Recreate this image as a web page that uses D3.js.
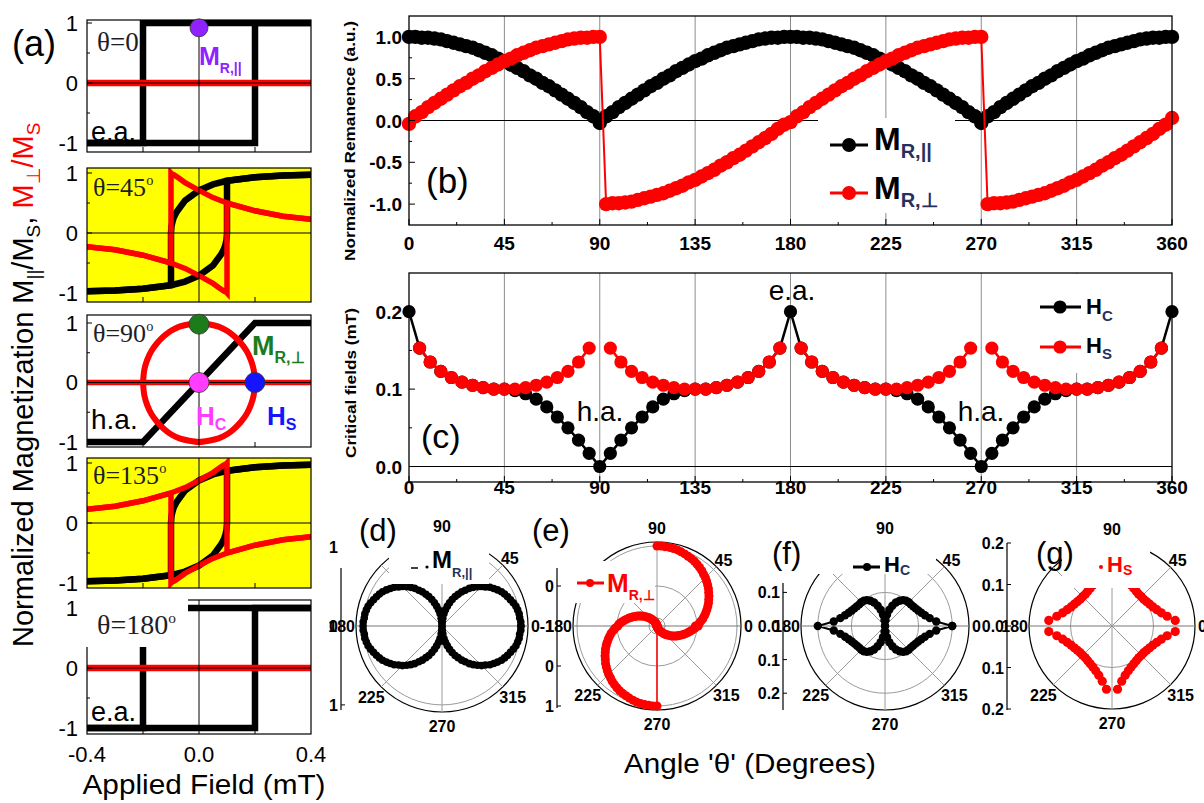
<!DOCTYPE html>
<html><head><meta charset="utf-8">
<script src="https://cdn.jsdelivr.net/npm/d3@7/dist/d3.min.js"></script>
<style>html,body{margin:0;padding:0;background:#fff;} svg{display:block;}</style>
</head><body>
<svg id="chart" width="1204" height="803" xmlns="http://www.w3.org/2000/svg"></svg>
<script>
// ====================== DATA ======================
// (a) hysteresis loops — applied field (mT) vs normalized magnetization
const fieldTicks = [-0.4, 0.0, 0.4];
const magTicks = [-1, 0, 1];
// easy axis (theta = 0 and 180): square loop
const eaDownH = [0.4, -0.2, -0.2, -0.4];
const eaDownPar = [1, 1, -1, -1];
const eaUpH = [-0.4, 0.2, 0.2, 0.4];
const eaUpPar = [-1, -1, 1, 1];
const zeroH = [-0.4, 0.4];
const zeroPerp = [0, 0];
// oblique (theta = 45 and 135)
const oblDownH = [0.4, 0.3, 0.2, 0.1, 0.05, 0, -0.05, -0.08, -0.09, -0.095, -0.098, -0.1, -0.1, -0.2, -0.3, -0.4];
const oblDownPar = [0.97, 0.96, 0.93, 0.87, 0.81, 0.71, 0.54, 0.35, 0.26, 0.18, 0.12, 0.0, -0.87, -0.93, -0.96, -0.97];
const oblUpH = [-0.4, -0.3, -0.2, -0.1, -0.05, 0, 0.05, 0.08, 0.09, 0.095, 0.098, 0.1, 0.1, 0.2, 0.3, 0.4];
const oblUpPar = [-0.97, -0.96, -0.93, -0.87, -0.81, -0.71, -0.54, -0.35, -0.26, -0.18, -0.12, 0.0, 0.87, 0.93, 0.96, 0.97];
const perp45Down = [0.23, 0.28, 0.37, 0.50, 0.59, 0.71, 0.84, 0.94, 0.97, 0.98, 0.99, 1.0, -0.5, -0.37, -0.28, -0.23];
const perp45Up = [-0.23, -0.28, -0.37, -0.50, -0.59, -0.71, -0.84, -0.94, -0.97, -0.98, -0.99, -1.0, 0.5, 0.37, 0.28, 0.23];
const perp135Down = [-0.23, -0.28, -0.37, -0.50, -0.59, -0.71, -0.84, -0.94, -0.97, -0.98, -0.99, -1.0, 0.5, 0.37, 0.28, 0.23];
const perp135Up = [0.23, 0.28, 0.37, 0.50, 0.59, 0.71, 0.84, 0.94, 0.97, 0.98, 0.99, 1.0, -0.5, -0.37, -0.28, -0.23];
// hard axis (theta = 90)
const haH = [-0.4, -0.2, 0.2, 0.4];
const haPar = [-1, -1, 1, 1];
const ringH = [-0.2, -0.195, -0.185, -0.17, -0.15, -0.125, -0.1, -0.07, -0.035, 0, 0.035, 0.07, 0.1, 0.125, 0.15, 0.17, 0.185, 0.195, 0.2];
const ringUpper = [0, 0.22, 0.38, 0.53, 0.66, 0.78, 0.87, 0.94, 0.98, 1, 0.98, 0.94, 0.87, 0.78, 0.66, 0.53, 0.38, 0.22, 0];
const ringLower = [0, -0.22, -0.38, -0.53, -0.66, -0.78, -0.87, -0.94, -0.98, -1, -0.98, -0.94, -0.87, -0.78, -0.66, -0.53, -0.38, -0.22, 0];
// marked points
const remPointH = [0];
const remPointM = [0.92];
const hardPointH = [0, 0, 0.2];
const hardPointM = [0.98, 0, 0];
const hardPointColors = ["#1c7c1c", "#ff3cff", "#1414ff"];

// (b) normalized remanence vs angle
const remAngles = d3.range(0, 361, 3);
const remPar = [
  1.00,1.00,0.99,0.99,0.98,0.97,0.95,0.93,0.91,0.89,0.87,0.84,0.81,0.78,0.74,0.71,0.67,0.63,0.59,0.54,0.50,0.45,0.41,0.36,0.31,0.26,0.21,0.16,0.10,0.05,-0.03,
  0.05,0.10,0.16,0.21,0.26,0.31,0.36,0.41,0.45,0.50,0.54,0.59,0.63,0.67,0.71,0.74,0.78,0.81,0.84,0.87,0.89,0.91,0.93,0.95,0.97,0.98,0.99,0.99,1.00,1.00,
  1.00,0.99,0.99,0.98,0.97,0.95,0.93,0.91,0.89,0.87,0.84,0.81,0.78,0.74,0.71,0.67,0.63,0.59,0.54,0.50,0.45,0.41,0.36,0.31,0.26,0.21,0.16,0.10,0.05,-0.03,
  0.05,0.10,0.16,0.21,0.26,0.31,0.36,0.41,0.45,0.50,0.54,0.59,0.63,0.67,0.71,0.74,0.78,0.81,0.84,0.87,0.89,0.91,0.93,0.95,0.97,0.98,0.99,0.99,1.00,1.00
];
const remPerp = [
  -0.04,0.05,0.10,0.16,0.21,0.26,0.31,0.36,0.41,0.45,0.50,0.54,0.59,0.63,0.67,0.71,0.74,0.78,0.81,0.84,0.87,0.89,0.91,0.93,0.95,0.97,0.98,0.99,0.99,1.00,1.00,
  -1.00,-0.99,-0.99,-0.98,-0.97,-0.95,-0.93,-0.91,-0.89,-0.87,-0.84,-0.81,-0.78,-0.74,-0.71,-0.67,-0.63,-0.59,-0.54,-0.50,-0.45,-0.41,-0.36,-0.31,-0.26,-0.21,-0.16,-0.10,-0.05,-0.02,
  0.05,0.10,0.16,0.21,0.26,0.31,0.36,0.41,0.45,0.50,0.54,0.59,0.63,0.67,0.71,0.74,0.78,0.81,0.84,0.87,0.89,0.91,0.93,0.95,0.97,0.98,0.99,0.99,1.00,1.00,
  -1.00,-0.99,-0.99,-0.98,-0.97,-0.95,-0.93,-0.91,-0.89,-0.87,-0.84,-0.81,-0.78,-0.74,-0.71,-0.67,-0.63,-0.59,-0.54,-0.50,-0.45,-0.41,-0.36,-0.31,-0.26,-0.21,-0.16,-0.10,-0.05,0.03
];
const angleTicks = [0, 45, 90, 135, 180, 225, 270, 315, 360];
const remTicks = [-1, -0.5, 0, 0.5, 1];

// (c) critical fields vs angle (mT)
const critAngles = d3.range(0, 361, 5);
const hc = [
  0.200,0.153,0.135,0.123,0.115,0.109,0.105,0.102,0.100,0.100,0.098,0.094,0.087,0.077,0.064,0.050,0.034,0.017,0.000,
  0.017,0.034,0.050,0.064,0.077,0.087,0.094,0.098,0.100,0.100,0.102,0.105,0.109,0.115,0.123,0.135,0.153,0.200,
  0.153,0.135,0.123,0.115,0.109,0.105,0.102,0.100,0.100,0.098,0.094,0.087,0.077,0.064,0.050,0.034,0.017,0.000,
  0.017,0.034,0.050,0.064,0.077,0.087,0.094,0.098,0.100,0.100,0.102,0.105,0.109,0.115,0.123,0.135,0.153,0.200
];
const hs = [
  null,0.153,0.135,0.123,0.115,0.109,0.105,0.102,0.100,0.100,0.100,0.102,0.105,0.109,0.115,0.123,0.135,0.153,
  null,0.153,0.135,0.123,0.115,0.109,0.105,0.102,0.100,0.100,0.100,0.102,0.105,0.109,0.115,0.123,0.135,0.153,
  null,0.153,0.135,0.123,0.115,0.109,0.105,0.102,0.100,0.100,0.100,0.102,0.105,0.109,0.115,0.123,0.135,0.153,
  null,0.153,0.135,0.123,0.115,0.109,0.105,0.102,0.100,0.100,0.100,0.102,0.105,0.109,0.115,0.123,0.135,0.153,
  null
];
const critTicks = [0, 0.1, 0.2];

// polar radial tick labels
const dRadial = [1, 0, 1], dSides = [-1, 0, 1];
const eRadial = [0, -1, 0, 1], eSides = [-1, 0, 1, 1];
const fRadial = [0.1, 0, 0.1, 0.2], fSides = [-1, 0, 1, 1];
const gRadial = [0.2, 0.1, 0, 0.1, 0.2], gSides = [-1, -1, 0, 1, 1];

// ====================== DRAWING ======================
const svg = d3.select("#chart");
const SANS = "'Liberation Sans', Arial, Helvetica, sans-serif";
const SERIF = "'Liberation Serif', 'Times New Roman', serif";
const NAVY = "#26305c";
const RED = "#ff0000";

function addText(parent, x, y, str, o = {}) {
  const t = parent.append("text").attr("x", x).attr("y", y)
    .attr("font-family", o.family || SANS).attr("font-size", o.size || 16)
    .attr("font-weight", o.weight || "normal").attr("text-anchor", o.anchor || "start")
    .attr("fill", o.fill || "#000");
  if (o.len) t.attr("textLength", o.len).attr("lengthAdjust", "spacingAndGlyphs");
  if (str !== null) t.text(str);
  return t;
}
function subText(parent, x, y, main, sub, o) {
  const t = addText(parent, x, y, null, {size: o.size, weight: "bold", fill: o.fill});
  t.append("tspan").text(main);
  t.append("tspan").attr("dy", o.dy).attr("font-size", o.subSize).attr("fill", o.subFill || o.fill).text(sub);
  return t;
}
const fmtSigned = v => (v < 0 ? "-" : "") + Math.abs(v);

// ---------- (a) ----------
const xA = d3.scaleLinear().domain([-0.4, 0.4]).range([87, 311]);
const aPanels = [
  {top: 20, bottom: 152, y1: 23, ym1: 143, fill: "#ffffff"},
  {top: 168, bottom: 302, y1: 173, ym1: 293, fill: "#ffff00"},
  {top: 315, bottom: 447, y1: 323, ym1: 442, fill: "#ffffff"},
  {top: 458, bottom: 588, y1: 463, ym1: 583, fill: "#ffff00"},
  {top: 600, bottom: 734, y1: 608, ym1: 728, fill: "#ffffff"}
];
const BW = 6.5, RW = 5.5;
const aSeries = [
  [{h: eaDownH, m: eaDownPar, c: "#000", w: BW}, {h: eaUpH, m: eaUpPar, c: "#000", w: BW}, {h: zeroH, m: zeroPerp, c: RED, w: RW + 1}],
  [{h: oblDownH, m: oblDownPar, c: "#000", w: BW}, {h: oblUpH, m: oblUpPar, c: "#000", w: BW},
   {h: oblDownH, m: perp45Down, c: RED, w: RW}, {h: oblUpH, m: perp45Up, c: RED, w: RW}],
  [{h: haH, m: haPar, c: "#000", w: BW}, {h: zeroH, m: zeroPerp, c: RED, w: RW},
   {h: ringH, m: ringUpper, c: RED, w: RW + 0.5, curve: d3.curveCatmullRom}, {h: ringH, m: ringLower, c: RED, w: RW + 0.5, curve: d3.curveCatmullRom}],
  [{h: oblDownH, m: oblDownPar, c: "#000", w: BW}, {h: oblUpH, m: oblUpPar, c: "#000", w: BW},
   {h: oblDownH, m: perp135Down, c: RED, w: RW}, {h: oblUpH, m: perp135Up, c: RED, w: RW}],
  [{h: eaDownH, m: eaDownPar, c: "#000", w: BW}, {h: eaUpH, m: eaUpPar, c: "#000", w: BW}, {h: zeroH, m: zeroPerp, c: RED, w: RW + 1}]
];
const aScales = [];
aPanels.forEach((p, i) => {
  const y = d3.scaleLinear().domain([-1, 1]).range([p.ym1, p.y1]);
  aScales.push(y);
  const g = svg.append("g");
  g.append("rect").attr("x", 87).attr("y", p.top).attr("width", 224).attr("height", p.bottom - p.top).attr("fill", p.fill);
  svg.append("clipPath").attr("id", "ca" + i).append("rect")
    .attr("x", 87).attr("y", p.top).attr("width", 224).attr("height", p.bottom - p.top);
  const dg = g.append("g").attr("clip-path", `url(#ca${i})`);
  aSeries[i].forEach(s => {
    const line = d3.line().x(d => xA(d[0])).y(d => y(d[1])).curve(s.curve || d3.curveLinear);
    dg.append("path").attr("d", line(s.h.map((h, k) => [h, s.m[k]])))
      .attr("fill", "none").attr("stroke", s.c).attr("stroke-width", s.w).attr("stroke-linejoin", "miter");
  });
  g.append("line").attr("x1", 87).attr("x2", 311).attr("y1", y(0)).attr("y2", y(0)).attr("stroke", "#000").attr("stroke-width", 1);
  g.append("line").attr("x1", xA(0)).attr("x2", xA(0)).attr("y1", p.top).attr("y2", p.bottom).attr("stroke", "#000").attr("stroke-width", 1);
  g.append("rect").attr("x", 87).attr("y", p.top).attr("width", 224).attr("height", p.bottom - p.top)
    .attr("fill", "none").attr("stroke", "#000").attr("stroke-width", 1.2);
  magTicks.forEach(v => g.append("line").attr("x1", 87).attr("x2", 92).attr("y1", y(v)).attr("y2", y(v)).attr("stroke", "#000"));
  [-0.5, 0.5].forEach(v => g.append("line").attr("x1", 87).attr("x2", 90).attr("y1", y(v)).attr("y2", y(v)).attr("stroke", "#000"));
  [-0.2, 0.2].forEach(v => g.append("line").attr("x1", xA(v)).attr("x2", xA(v)).attr("y1", p.bottom).attr("y2", p.bottom - 5).attr("stroke", "#000"));
  magTicks.forEach(v => addText(g, 78, y(v) + 7.5, fmtSigned(v), {size: 22, anchor: "end"}));
});
// field tick labels (bottom panel)
fieldTicks.forEach(v => addText(svg, xA(v), 762, (v < 0 ? "-" : "") + Math.abs(v).toFixed(1), {size: 22, anchor: "middle"}));
addText(svg, 204, 794, "Applied Field (mT)", {size: 27, anchor: "middle", len: 243});

// marked points (a)
svg.selectAll(null).data(remPointH).join("circle")
  .attr("cx", d => xA(d)).attr("cy", (d, i) => aScales[0](remPointM[i])).attr("r", 9)
  .attr("fill", "#8f22ff").attr("stroke", "#333").attr("stroke-width", 0.8);
svg.selectAll(null).data(hardPointH).join("circle")
  .attr("cx", d => xA(d)).attr("cy", (d, i) => aScales[2](hardPointM[i])).attr("r", 10)
  .attr("fill", (d, i) => hardPointColors[i]).attr("stroke", "#333").attr("stroke-width", 0.8);

// white box over top-left of theta=180 panel
svg.append("rect").attr("x", 85).attr("y", 593).attr("width", 103).attr("height", 54).attr("fill", "#fff");

// (a) texts
const th = (y, x, main, deg, size) => {
  const t = addText(svg, x, y, null, {size: size, family: SERIF, fill: "#1e1e28"});
  t.append("tspan").text(main);
  if (deg) t.append("tspan").attr("dy", -11).attr("font-size", size * 0.55).text("o");
};
th(51, 97, "θ=0", false, 27);
th(196, 93, "θ=45", true, 26);
th(342, 93, "θ=90", true, 26);
th(484, 93, "θ=135", true, 26);
th(634, 97, "θ=180", true, 28);
addText(svg, 91, 141, "e.a.", {size: 27});
addText(svg, 91, 721, "e.a.", {size: 27});
addText(svg, 91, 429, "h.a.", {size: 28});
subText(svg, 199, 65, "M", "R,||", {size: 25, subSize: 14, dy: 8, fill: "#8f22ff"});
subText(svg, 252, 355, "M", "R,⊥", {size: 27, subSize: 16, dy: 8, fill: "#1c7c1c"});
subText(svg, 196, 425, "H", "C", {size: 26, subSize: 16, dy: 5, fill: "#ff3cff"});
subText(svg, 267, 425, "H", "S", {size: 26, subSize: 16, dy: 5, fill: "#1414ff"});
addText(svg, 12, 56, "(a)", {size: 36});

// big y label for (a)
{
  const t = svg.append("text").attr("transform", "translate(33,647) rotate(-90)")
    .attr("font-family", SANS).attr("font-size", 29).attr("fill", "#000");
  t.append("tspan").text("Normalized Magnetization M");
  t.append("tspan").attr("dy", 7).attr("font-size", 19).text("||");
  t.append("tspan").attr("dy", -7).text("/M");
  t.append("tspan").attr("dy", 7).attr("font-size", 19).text("S");
  t.append("tspan").attr("dy", -7).text(", ");
  t.append("tspan").attr("fill", RED).text("M");
  t.append("tspan").attr("dy", 7).attr("font-size", 19).attr("fill", RED).text("⊥");
  t.append("tspan").attr("dy", -7).attr("fill", RED).text("/M");
  t.append("tspan").attr("dy", 7).attr("font-size", 19).attr("fill", RED).text("S");
}

// ---------- (b) and (c) ----------
const xB = d3.scaleLinear().domain([0, 360]).range([409, 1172]);
const yB = d3.scaleLinear().domain([-1.25, 1.25]).range([225, 16]);
const yC = d3.scaleLinear().domain([-0.02, 0.25]).range([482, 273]);

function cartesian(y, top, bottom, box) {
  const g = svg.append("g");
  angleTicks.slice(1, -1).forEach(a => g.append("line").attr("x1", xB(a)).attr("x2", xB(a))
    .attr("y1", top).attr("y2", bottom).attr("stroke", "#8c8c8c").attr("stroke-width", 1));
  g.append("line").attr("x1", 409).attr("x2", 1172).attr("y1", y(0)).attr("y2", y(0)).attr("stroke", "#000").attr("stroke-width", 1);
  g.append("rect").attr("x", box[0]).attr("y", box[1]).attr("width", box[2]).attr("height", box[3]).attr("fill", "#fff");
  return g;
}
function frame(y, top, bottom, majors, minors, fmt, xLabY) {
  const g = svg.append("g");
  g.append("rect").attr("x", 409).attr("y", top).attr("width", 763).attr("height", bottom - top)
    .attr("fill", "none").attr("stroke", "#000").attr("stroke-width", 1.3);
  majors.forEach(v => g.append("line").attr("x1", 409).attr("x2", 415).attr("y1", y(v)).attr("y2", y(v)).attr("stroke", "#000"));
  minors.forEach(v => g.append("line").attr("x1", 409).attr("x2", 412).attr("y1", y(v)).attr("y2", y(v)).attr("stroke", "#000"));
  angleTicks.forEach(a => g.append("line").attr("x1", xB(a)).attr("x2", xB(a)).attr("y1", bottom).attr("y2", bottom - 6).attr("stroke", "#000"));
  angleTicks.slice(0, -1).forEach(a => g.append("line").attr("x1", xB(a + 22.5)).attr("x2", xB(a + 22.5)).attr("y1", bottom).attr("y2", bottom - 3).attr("stroke", "#000"));
  majors.forEach(v => addText(g, 402, y(v) + 7, fmt(v), {size: 19, weight: "bold", anchor: "end"}));
  angleTicks.forEach(a => addText(g, xB(a), xLabY, String(a), {size: 19, weight: "bold", anchor: "middle"}));
}
function series(angles, values, y, color, r, lw) {
  const pts = angles.map((a, i) => ({a, v: values[i]}));
  const line = d3.line().defined(d => d.v !== null).x(d => xB(d.a)).y(d => y(d.v));
  svg.append("path").attr("d", line(pts)).attr("fill", "none").attr("stroke", color).attr("stroke-width", lw);
  svg.append("g").selectAll("circle").data(pts.filter(d => d.v !== null)).join("circle")
    .attr("cx", d => xB(d.a)).attr("cy", d => y(d.v)).attr("r", r).attr("fill", color);
}
const fmt1 = v => (v < 0 ? "-" : "") + Math.abs(v).toFixed(1);

// (b)
cartesian(yB, 16, 225, [818, 118, 137, 95]);
series(remAngles, remPar, yB, "#000", 7.2, 2);
series(remAngles, remPerp, yB, RED, 7.2, 2);
frame(yB, 16, 225, remTicks, [-0.75, -0.25, 0.25, 0.75], fmt1, 250);
addText(svg, 0, 0, "Normalized Remanence (a.u.)", {size: 14, weight: "bold", anchor: "middle", len: 240})
  .attr("transform", "translate(355,141) rotate(-90)");
addText(svg, 426, 193, "(b)", {size: 35});
// legend (b)
svg.append("line").attr("x1", 830).attr("x2", 868).attr("y1", 145).attr("y2", 145).attr("stroke", "#000").attr("stroke-width", 3);
svg.append("circle").attr("cx", 849).attr("cy", 145).attr("r", 7).attr("fill", "#000");
subText(svg, 874, 150, "M", "R,||", {size: 32, subSize: 20, dy: 8, fill: "#000", subFill: NAVY});
svg.append("line").attr("x1", 830).attr("x2", 868).attr("y1", 193).attr("y2", 193).attr("stroke", RED).attr("stroke-width", 3);
svg.append("circle").attr("cx", 849).attr("cy", 193).attr("r", 7).attr("fill", RED);
subText(svg, 874, 199, "M", "R,⊥", {size: 32, subSize: 20, dy: 8, fill: "#000", subFill: NAVY});

// (c)
cartesian(yC, 273, 482, [1030, 274, 141, 99]);
series(critAngles, hc, yC, "#000", 6.6, 2.5);
series(critAngles, hs, yC, RED, 6.6, 2.5);
frame(yC, 273, 482, critTicks, [0.05, 0.15], v => v.toFixed(1), 494);
addText(svg, 0, 0, "Critical fields (mT)", {size: 14, weight: "bold", anchor: "middle", len: 150})
  .attr("transform", "translate(356,383) rotate(-90)");
addText(svg, 421, 448, "(c)", {size: 34});
addText(svg, 792, 300, "e.a.", {size: 28, anchor: "middle"});
addText(svg, 600, 421, "h.a.", {size: 28, anchor: "middle"});
addText(svg, 981, 421, "h.a.", {size: 28, anchor: "middle"});
svg.append("line").attr("x1", 1040).attr("x2", 1081).attr("y1", 307).attr("y2", 307).attr("stroke", "#000").attr("stroke-width", 3);
svg.append("circle").attr("cx", 1060).attr("cy", 307).attr("r", 6.6).attr("fill", "#000");
subText(svg, 1086, 314, "H", "C", {size: 22, subSize: 15, dy: 7, fill: "#000", subFill: NAVY});
svg.append("line").attr("x1", 1040).attr("x2", 1081).attr("y1", 347).attr("y2", 347).attr("stroke", RED).attr("stroke-width", 3);
svg.append("circle").attr("cx", 1060).attr("cy", 347).attr("r", 6.6).attr("fill", RED);
subText(svg, 1086, 353, "H", "S", {size: 22, subSize: 15, dy: 6, fill: "#000", subFill: NAVY});

// ---------- polar plots (d)-(g) ----------
const toRad = a => (90 - a) * Math.PI / 180;
function polar(cfg) {
  const g = svg.append("g").attr("transform", `translate(${cfg.cx},${cfg.cy})`);
  const r = d3.scaleLinear().domain(cfg.domain).range([0, cfg.rmax]).clamp(true);
  const outer = cfg.rmax;
  cfg.rings.forEach(v => g.append("circle").attr("r", r(v)).attr("fill", "none").attr("stroke", "#9a9a9a").attr("stroke-width", 1));
  g.append("circle").attr("r", outer).attr("fill", "none").attr("stroke", "#000").attr("stroke-width", 1.2);
  d3.range(0, 360, 45).forEach(a => {
    const p = d3.pointRadial(toRad(a), outer);
    g.append("line").attr("x2", p[0]).attr("y2", p[1]).attr("stroke", a % 180 === 0 ? "#777" : "#9a9a9a").attr("stroke-width", 1);
  });
  const pts = cfg.angles.map((a, i) => ({a, v: cfg.values[i]}));
  // split the connecting line after the listed break angles
  const segs = [[]];
  pts.forEach(d => {
    segs[segs.length - 1].push(d);
    if ((cfg.breaks || []).includes(d.a)) segs.push([]);
  });
  const line = d3.lineRadial().defined(d => d.v !== null).angle(d => toRad(d.a)).radius(d => r(d.v));
  segs.forEach(s => g.append("path").attr("d", line(s)).attr("fill", "none").attr("stroke", cfg.color).attr("stroke-width", cfg.lw));
  g.append("g").selectAll("circle").data(pts.filter(d => d.v !== null)).join("circle")
    .attr("cx", d => d3.pointRadial(toRad(d.a), r(d.v))[0])
    .attr("cy", d => d3.pointRadial(toRad(d.a), r(d.v))[1])
    .attr("r", cfg.mr).attr("fill", cfg.color);
  // legend background
  svg.append("rect").attr("x", cfg.box[0]).attr("y", cfg.box[1]).attr("width", cfg.box[2]).attr("height", cfg.box[3]).attr("fill", "#fff");
  // angle labels
  const lab = {size: 16, weight: "bold"};
  addText(g, 0, -outer - 8, "90", {...lab, anchor: "middle"});
  addText(g, 0, outer + 20, "270", {...lab, anchor: "middle"});
  addText(g, -outer - 1, 6, "180", {...lab, anchor: "end"});
  addText(g, outer + 3, 6, "0", {...lab, anchor: "start"});
  [45, 225, 315].forEach(a => {
    const p = d3.pointRadial(toRad(a), outer + (a === 45 ? 10 : 14));
    addText(g, p[0], p[1] + 6, String(a), {...lab, anchor: "middle"});
  });
  // radial axis
  const ax = cfg.axisX - cfg.cx;
  g.append("line").attr("x1", ax).attr("x2", ax).attr("y1", cfg.axisY[0] - cfg.cy).attr("y2", cfg.axisY[1] - cfg.cy).attr("stroke", "#000").attr("stroke-width", 1.2);
  cfg.radial.forEach((v, i) => {
    const yy = cfg.sides[i] * r(v);
    if (cfg.cy + yy >= cfg.axisY[0] - 1) g.append("line").attr("x1", ax).attr("x2", ax + 4).attr("y1", yy).attr("y2", yy).attr("stroke", "#000");
    addText(g, ax - 3, yy + 6, cfg.fmt(v), {...lab, anchor: "end"});
  });
  return g;
}
polar({cx: 442, cy: 626, domain: [0, 1.09], rmax: 86, rings: [1], angles: remAngles, values: remPar,
  color: "#000", mr: 3.8, lw: 1.5, box: [389, 536, 100, 48], axisX: 341, axisY: [568, 710],
  radial: dRadial, sides: dSides, fmt: v => String(v)});
polar({cx: 657, cy: 626, domain: [-1, 1.1], rmax: 84, rings: [-0.8, 0, 1], angles: remAngles, values: remPerp,
  color: RED, mr: 4.5, lw: 1.5, breaks: [90], box: [572, 561, 83, 42], axisX: 557, axisY: [568, 708],
  radial: eRadial, sides: eSides, fmt: v => fmtSigned(v)});
polar({cx: 885, cy: 626, domain: [0, 0.25], rmax: 84, rings: [0.1, 0.2], angles: critAngles, values: hc,
  color: "#000", mr: 4.2, lw: 2, box: [818, 537, 118, 37], axisX: 783, axisY: [583, 710],
  radial: fRadial, sides: fSides, fmt: v => v.toFixed(1)});
polar({cx: 1112, cy: 626, domain: [0, 0.2], rmax: 83, rings: [0.1], angles: critAngles, values: hs,
  color: RED, mr: 4.6, lw: 2, box: [1062, 537, 88, 51], axisX: 1007, axisY: [543, 710],
  radial: gRadial, sides: gSides, fmt: v => v.toFixed(1)});

// polar legends & labels
addText(svg, 359, 541, "(d)", {size: 31});
addText(svg, 532, 541, "(e)", {size: 31});
addText(svg, 772, 564, "(f)", {size: 31});
addText(svg, 1036, 564, "(g)", {size: 31});
svg.append("line").attr("x1", 411).attr("x2", 418).attr("y1", 568).attr("y2", 568).attr("stroke", "#000").attr("stroke-width", 1.5);
svg.append("circle").attr("cx", 427).attr("cy", 567).attr("r", 1.6).attr("fill", "#000");
subText(svg, 432, 568, "M", "R,||", {size: 24, subSize: 13, dy: 9, fill: "#000", subFill: NAVY});
svg.append("line").attr("x1", 577).attr("x2", 604).attr("y1", 583).attr("y2", 583).attr("stroke", RED).attr("stroke-width", 3);
svg.append("circle").attr("cx", 590).attr("cy", 583).attr("r", 4).attr("fill", RED);
subText(svg, 607, 592, "M", "R,⊥", {size: 26, subSize: 14, dy: 8, fill: RED});
svg.append("line").attr("x1", 853).attr("x2", 880).attr("y1", 567).attr("y2", 567).attr("stroke", "#000").attr("stroke-width", 3);
svg.append("circle").attr("cx", 867).attr("cy", 567).attr("r", 4).attr("fill", "#000");
subText(svg, 884, 572, "H", "C", {size: 22, subSize: 14, dy: 3, fill: "#000", subFill: NAVY});
svg.append("circle").attr("cx", 1101).attr("cy", 567).attr("r", 2).attr("fill", RED);
subText(svg, 1107, 572, "H", "S", {size: 22, subSize: 14, dy: 3, fill: RED});

addText(svg, 750, 773, "Angle 'θ' (Degrees)", {size: 27, anchor: "middle", len: 252});
</script>
</body></html>
